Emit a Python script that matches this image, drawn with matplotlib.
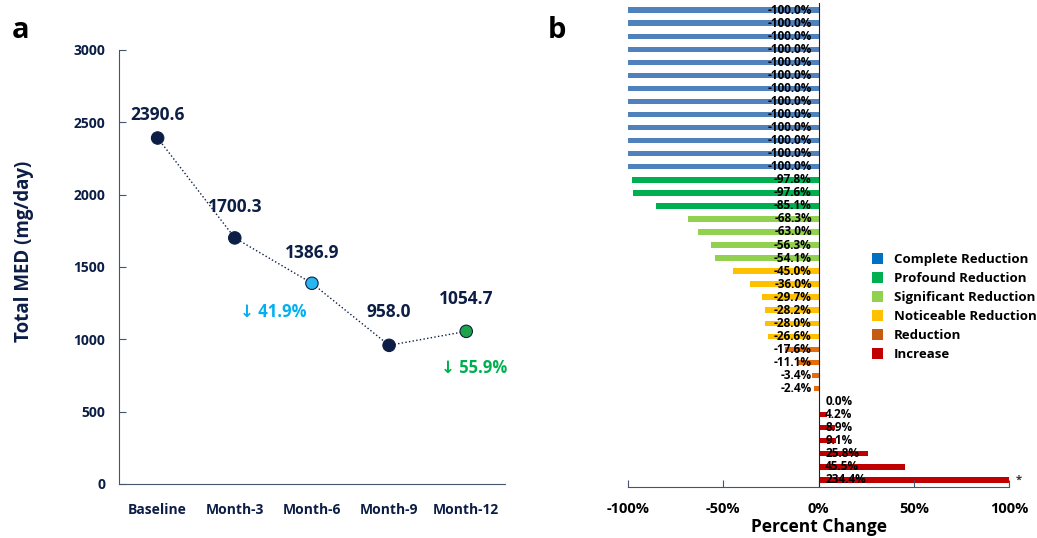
import numpy as np
import matplotlib.pyplot as plt
from matplotlib.patches import Patch

# panel a data
visits = ['Baseline', 'Month-3', 'Month-6', 'Month-9', 'Month-12']
med_total = [2390.6, 1700.3, 1386.9, 958.0, 1054.7]

# panel b data (percent change per patient, top to bottom)
pct_change = [-100.0] * 13 + [-97.8, -97.6, -85.1,
              -68.3, -63.0, -56.3, -54.1,
              -45.0, -36.0, -29.7, -28.2, -28.0, -26.6,
              -17.6, -11.1, -3.4, -2.4,
              0.0, 4.2, 8.9, 9.1, 25.8, 45.5, 234.4]
groups = ['Complete Reduction', 'Profound Reduction', 'Significant Reduction',
          'Noticeable Reduction', 'Reduction', 'Increase']
group_sizes = [13, 3, 4, 6, 4, 7]

navy = '#0c1e46'
bar_cols = ['#4f81bd', '#00b050', '#92d050', '#ffc000', '#e46c0a', '#c00000']
legend_cols = ['#0070c0', '#00b050', '#92d050', '#ffc000', '#c55a11', '#c00000']

plt.rcParams['font.family'] = ['Open Sans', 'DejaVu Sans']
plt.rcParams['font.weight'] = 'bold'

fig = plt.figure(figsize=(10.37, 5.38), dpi=100)

# ---------- panel a ----------
ax1 = fig.add_axes([0.1148, 0.1004, 0.372, 0.807])
x = np.arange(len(visits))
ax1.plot(x, med_total, ':', color=navy, lw=1.0, zorder=1)
mcols = [navy, navy, '#29b6f0', navy, '#1fa34a']
ax1.scatter(x, med_total, s=80, c=mcols, edgecolors=navy, linewidths=0.8, zorder=2)
label_off = [95, 150, 150, 165, 160]
for xi, v, off in zip(x, med_total, label_off):
    ax1.text(xi, v + off, f'{v:.1f}', ha='center', va='bottom', fontsize=12.5,
             fontweight='bold', color=navy)
ax1.text(1.5, 1190, '↓ 41.9%', ha='center', va='center', fontsize=12,
         fontweight='bold', color='#00b0f0')
ax1.text(4.1, 800, '↓ 55.9%', ha='center', va='center', fontsize=12,
         fontweight='bold', color='#00b050')
ax1.set_xlim(-0.5, 4.5)
ax1.set_ylim(0, 3000)
ax1.set_yticks(range(0, 3001, 500))
ax1.set_xticks(x)
ax1.set_xticklabels(visits)
ax1.tick_params(axis='y', direction='in', length=5, color='#44546a', labelsize=10,
                labelcolor=navy, pad=10)
ax1.tick_params(axis='x', length=0, labelsize=10, labelcolor=navy, pad=14)
for lab in ax1.get_xticklabels() + ax1.get_yticklabels():
    lab.set_fontweight('bold')
ax1.set_ylabel('Total MED (mg/day)', fontsize=13.5, fontweight='bold', color=navy)
ax1.yaxis.set_label_coords(-0.22, 0.535)
for s in ['top', 'right']:
    ax1.spines[s].set_visible(False)
for s in ['left', 'bottom']:
    ax1.spines[s].set_color('#44546a')
fig.text(0.011, 0.93, 'a', fontsize=21, fontweight='bold', color='black')

# ---------- panel b ----------
ax2 = fig.add_axes([0.6056, 0.0948, 0.3674, 0.8996])
colors = []
for c, n in zip(bar_cols, group_sizes):
    colors += [c] * n
y = np.arange(len(pct_change))
shown = np.clip(pct_change, -100, 100)
ax2.barh(y, shown, height=0.42, color=colors, zorder=1)
for yi, v in zip(y, pct_change):
    if v < 0:
        ax2.text(-3.5, yi, f'{v:.1f}%', ha='right', va='center', fontsize=8.5,
                 fontweight='bold', color='black', zorder=3)
    else:
        ax2.text(3.5, yi, f'{v:.1f}%', ha='left', va='center', fontsize=8.5,
                 fontweight='bold', color='black', zorder=3)
ax2.text(105, y[-1], '*', ha='center', va='center', fontsize=8, color='#333333',
         clip_on=False)
ax2.set_xlim(-100, 100)
ax2.set_ylim(len(pct_change) - 0.45, -0.55)
ax2.set_xticks([-100, -50, 0, 50, 100])
ax2.set_xticklabels(['-100%', '-50%', '0%', '50%', '100%'])
ax2.tick_params(axis='x', direction='in', length=5, color='#44546a', labelsize=10.5,
                labelcolor='black', pad=11)
for lab in ax2.get_xticklabels():
    lab.set_fontweight('bold')
ax2.set_yticks([])
ax2.set_xlabel('Percent Change', fontsize=12.5, fontweight='bold', labelpad=1)
for s in ['top', 'right']:
    ax2.spines[s].set_visible(False)
ax2.spines['left'].set_position(('data', 0))
ax2.spines['left'].set_color('#222222')
ax2.spines['bottom'].set_color('#44546a')
fig.text(0.528, 0.93, 'b', fontsize=21, fontweight='bold', color='black')

handles = [Patch(facecolor=c, label=g) for c, g in zip(legend_cols, groups)]
fig.legend(handles=handles, loc='upper left', bbox_to_anchor=(0.829, 0.552),
           frameon=False, handlelength=0.9, handleheight=0.9,
           labelspacing=0.45, handletextpad=0.8, prop={'weight': 'bold', 'size': 9.5})

fig.savefig('out.png', dpi=100)
